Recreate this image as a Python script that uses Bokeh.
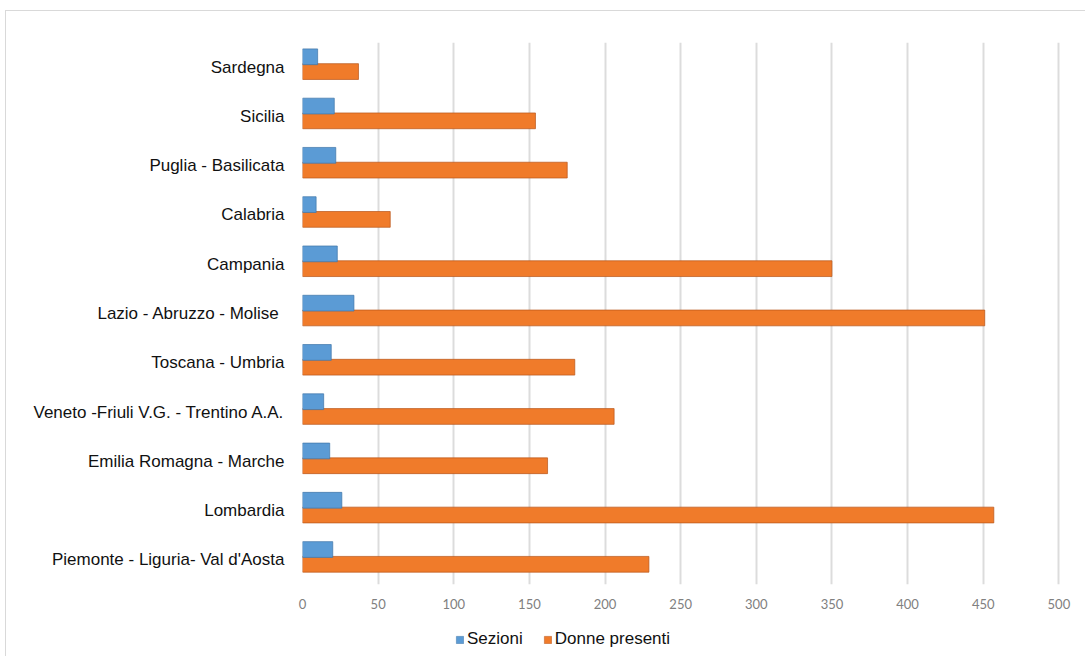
from bokeh.plotting import figure
from bokeh.models import ColumnDataSource, FactorRange, Range1d, Legend, LegendItem, FixedTicker
from bokeh.layouts import column
from bokeh.transform import dodge
from bokeh.embed import file_html
from bokeh.resources import INLINE

# Data (bottom to top, as drawn)
regions = [
    "Piemonte - Liguria- Val d'Aosta",
    "Lombardia",
    "Emilia Romagna - Marche",
    "Veneto -Friuli V.G. - Trentino A.A.",
    "Toscana - Umbria",
    "Lazio - Abruzzo - Molise ",
    "Campania",
    "Calabria",
    "Puglia - Basilicata",
    "Sicilia",
    "Sardegna",
]
sezioni = [20, 26, 18, 14, 19, 34, 23, 9, 22, 21, 10]
donne_presenti = [229, 457, 162, 206, 180, 451, 350, 58, 175, 154, 37]
x_ticks = [0, 50, 100, 150, 200, 250, 300, 350, 400, 450, 500]
series_names = ["Sezioni", "Donne presenti"]
series_colors = ["#5B9BD5", "#F07B2A"]
series_edges = ["#3E75A8", "#B8561A"]

source = ColumnDataSource(data=dict(region=regions, sez=sezioni, donne=donne_presenti))

p = figure(
    width=1079, height=612,
    y_range=FactorRange(factors=regions),
    x_range=Range1d(0, 511),
    output_backend="svg", toolbar_location=None,
    min_border_left=296, min_border_right=10, min_border_top=31, min_border_bottom=39,
)

r_sez = p.hbar(y=dodge("region", 0.21, range=p.y_range), left=0, right="sez", height=0.32,
               source=source, fill_color=series_colors[0], line_color=series_edges[0],
               line_alpha=0.7, line_width=1)
r_don = p.hbar(y=dodge("region", -0.09, range=p.y_range), left=0, right="donne", height=0.32,
               source=source, fill_color=series_colors[1], line_color=series_edges[1],
               line_alpha=0.7, line_width=1)
p.renderers = [r_don, r_sez]

p.outline_line_color = None
p.background_fill_color = "white"
p.border_fill_color = "white"

p.ygrid.grid_line_color = None
p.xgrid.grid_line_color = "#dcdcdc"
p.xgrid.grid_line_width = 2
p.xaxis.ticker = FixedTicker(ticks=x_ticks)

p.xaxis.axis_line_color = None
p.xaxis.major_tick_line_color = None
p.xaxis.minor_tick_line_color = None
p.xaxis.major_label_standoff = 8
p.xaxis.major_label_text_font = "Lato"
p.xaxis.major_label_text_font_size = "13px"
p.xaxis.major_label_text_color = "#808080"

p.yaxis.axis_line_color = None
p.yaxis.major_tick_line_color = None
p.yaxis.minor_tick_line_color = None
p.yaxis.major_label_standoff = 12
p.yaxis.major_label_text_font = "Liberation Sans"
p.yaxis.major_label_text_font_size = "17px"
p.yaxis.major_label_text_color = "#111111"

# Legend strip below the chart (frames are aligned by the column layout)
p2 = figure(
    width=1079, height=33, x_range=Range1d(0, 1), y_range=Range1d(0, 1),
    x_axis_type=None, y_axis_type=None, output_backend="svg", toolbar_location=None,
    min_border=0,
)
p2.outline_line_color = None
p2.xgrid.grid_line_color = None
p2.ygrid.grid_line_color = None
# legend swatches only: placed outside the visible range of this strip
swatch = ColumnDataSource(data=dict(y=[-5.0], l=[0.0], r=[0.5]))
lr_sez = p2.hbar(y="y", left="l", right="r", height=1, source=swatch,
                 fill_color=series_colors[0], line_color=series_edges[0], line_alpha=0.5)
lr_don = p2.hbar(y="y", left="l", right="r", height=1, source=swatch,
                 fill_color=series_colors[1], line_color=series_edges[1], line_alpha=0.5)
legend = Legend(
    items=[LegendItem(label=series_names[0], renderers=[lr_sez]),
           LegendItem(label=series_names[1], renderers=[lr_don])],
    location=(153, 7), orientation="horizontal",
    glyph_width=9, glyph_height=9, label_standoff=3, spacing=20,
    padding=0, margin=0, border_line_color=None, background_fill_alpha=0,
    label_text_font="Liberation Sans", label_text_font_size="17px", label_text_color="#111111",
)
p2.add_layout(legend, "center")

layout = column(p, p2, spacing=0)
layout.styles = {"margin-left": "5px", "margin-top": "10px",
                 "border-left": "1px solid #d9d9d9", "border-top": "1px solid #d9d9d9"}

open("out.html", "w").write(file_html(layout, INLINE))
